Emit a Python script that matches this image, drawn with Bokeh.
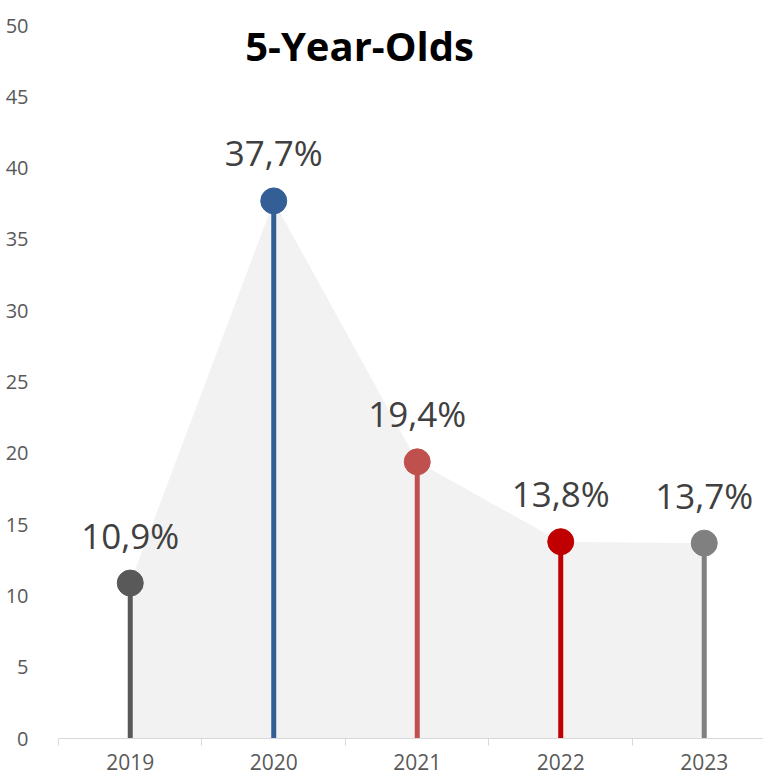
from bokeh.plotting import figure
from bokeh.models import ColumnDataSource, FixedTicker, Label, Range1d
from bokeh.embed import file_html
from bokeh.resources import INLINE
from bokeh.core.properties import value

years = ["2019", "2020", "2021", "2022", "2023"]
shares = [10.9, 37.7, 19.4, 13.8, 13.7]
labels = ["10,9%", "37,7%", "19,4%", "13,8%", "13,7%"]
colors = ["#595959", "#335f96", "#c0504d", "#c00000", "#808080"]
y_ticks = [0, 5, 10, 15, 20, 25, 30, 35, 40, 45, 50]
title_text = "5-Year-Olds"

idx = list(range(len(years)))
src = ColumnDataSource(dict(x=idx, y=shares, base=[0] * len(idx), lab=labels, col=colors))

FONT = "Open Sans"

p = figure(width=763, height=776, output_backend="svg", toolbar_location=None,
           x_range=Range1d(-0.5, 4.413), y_range=Range1d(0, 50),
           min_border_left=58, min_border_right=0, min_border_top=25, min_border_bottom=38)
p.outline_line_color = None
p.xgrid.grid_line_color = None
p.ygrid.grid_line_color = None
p.background_fill_color = "white"

# area
p.varea(x="x", y1="base", y2="y", source=src, fill_color="#f2f2f2")
# stems
p.segment(x0="x", y0="base", x1="x", y1="y", source=src, line_color="col", line_width=5)
# markers
p.scatter(x="x", y="y", source=src, size=26, fill_color="col", line_color="col")
# labels
p.text(x="x", y="y", text="lab", source=src, y_offset=-48, text_align="center",
       text_baseline="middle", text_font=value(FONT), text_font_size="35px",
       text_color="#404040")

# title
p.add_layout(Label(x=1.598, y=48.6, text=title_text, text_align="center", text_baseline="middle",
                   text_font=FONT, text_font_size="40px", text_font_style="bold",
                   text_color="#000000"))

# x axis
xa = p.xaxis[0]
xa.ticker = FixedTicker(ticks=idx, minor_ticks=[i - 0.5 for i in idx])
xa.major_label_overrides = {i: y for i, y in enumerate(years)}
xa.major_tick_out = 0
xa.major_tick_in = 0
xa.minor_tick_out = 7
xa.minor_tick_in = 0
xa.minor_tick_line_color = "#d9d9d9"
xa.axis_line_color = "#d9d9d9"
xa.axis_line_width = 1
xa.major_label_standoff = 8
xa.major_label_text_font = FONT
xa.major_label_text_font_size = "21px"
xa.major_label_text_color = "#595959"

# y axis
ya = p.yaxis[0]
ya.ticker = FixedTicker(ticks=y_ticks)
ya.axis_line_color = None
ya.major_tick_line_color = None
ya.minor_tick_line_color = None
ya.major_label_standoff = 24
ya.major_label_text_font = FONT
ya.major_label_text_font_size = "20px"
ya.major_label_text_color = "#595959"

open("out.html", "w").write(file_html(p, INLINE))
